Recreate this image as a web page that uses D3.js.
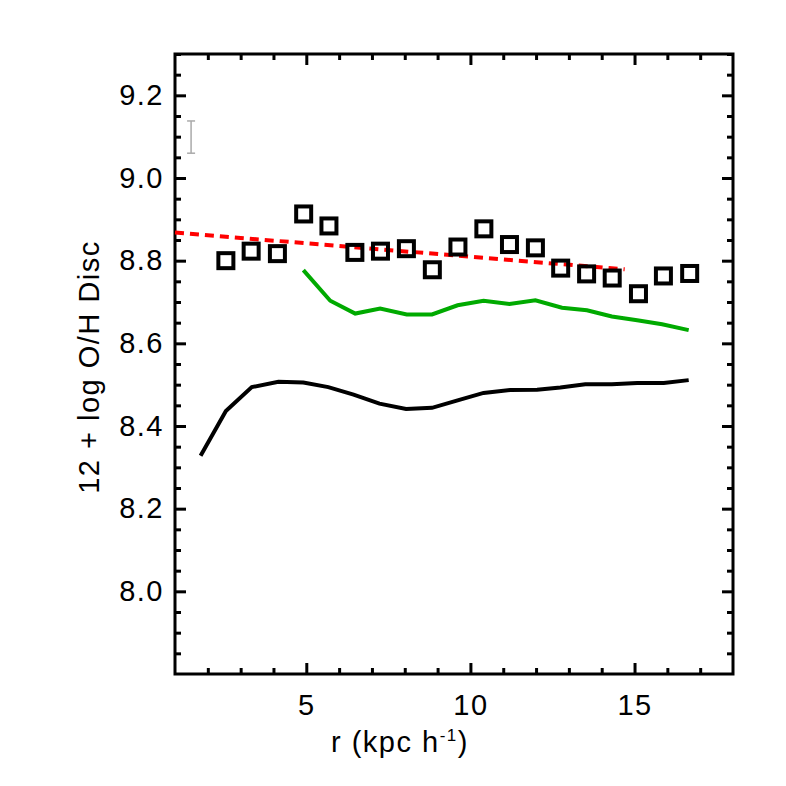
<!DOCTYPE html>
<html>
<head>
<meta charset="utf-8">
<script src="https://cdn.jsdelivr.net/npm/d3@7"></script>
<style>
  body { margin: 0; background: #fff; }
  svg text { font-family: "Liberation Sans", Arial, sans-serif; fill: #000; letter-spacing: 1.5px; }
</style>
</head>
<body>
<div class="figure"></div>
<script>
// observed discs: squares
let sqR = [2.55, 3.32, 4.12, 4.92, 5.69, 6.48, 7.26, 8.05, 8.84, 9.62, 10.41, 11.19, 11.98, 12.75, 13.54, 14.32, 15.12, 15.88, 16.68];
let sqOH = [8.800, 8.823, 8.817, 8.913, 8.884, 8.820, 8.823, 8.829, 8.778, 8.833, 8.877, 8.839, 8.831, 8.782, 8.768, 8.758, 8.720, 8.763, 8.769];

// green model line
let greenR = [4.91, 5.73, 6.49, 7.25, 8.06, 8.83, 9.61, 10.40, 11.19, 11.98, 12.79, 13.55, 14.31, 15.08, 15.84, 16.65];
let greenOH = [8.777, 8.703, 8.672, 8.684, 8.670, 8.670, 8.692, 8.703, 8.695, 8.704, 8.686, 8.680, 8.665, 8.656, 8.646, 8.632];

// black model line
let blackR = [1.78, 2.55, 3.34, 4.15, 4.91, 5.67, 6.44, 7.23, 8.04, 8.83, 9.61, 10.40, 11.21, 12.03, 12.74, 13.50, 14.31, 15.08, 15.89, 16.65];
let blackOH = [8.328, 8.436, 8.494, 8.507, 8.505, 8.494, 8.476, 8.454, 8.441, 8.444, 8.462, 8.480, 8.487, 8.488, 8.493, 8.501, 8.501, 8.504, 8.504, 8.511];

// red dashed fit
let fitR = [1.0, 14.7];
let fitOH = [8.868, 8.779];

// typical error bar
let errR = 1.49;
let errLo = 9.060, errHi = 9.138;

let xTicks = [5, 10, 15];
let yTicks = [8.0, 8.2, 8.4, 8.6, 8.8, 9.0, 9.2];

let margin = {top: 54, right: 53, bottom: 112, left: 175},
  width = 786 - margin.left - margin.right,
  height = 786 - margin.top - margin.bottom;

let svg = d3.select(".figure")
  .append("svg")
  .attr("width", 786)
  .attr("height", 786);

let g = svg.append("g")
  .attr("transform", "translate(" + margin.left + "," + margin.top + ")");

let x = d3.scaleLinear().domain([1, 18]).range([0, width]);
let y = d3.scaleLinear().domain([7.8, 9.3]).range([height, 0]);

let minorX = d3.range(2, 18, 1).filter(function(v) { return v % 5 != 0; });
let minorY = d3.range(7.85, 9.3, 0.05).filter(function(v) { return Math.abs(v * 5 - Math.round(v * 5)) > 0.01; });

function styleAxis(sel) {
  sel.select(".domain").remove();
  sel.selectAll("line").attr("stroke", "#000").attr("stroke-width", 3);
  sel.selectAll("text").attr("font-size", 29);
}

// major ticks, all four sides
g.append("g").attr("transform", "translate(0," + height + ")")
  .call(d3.axisBottom(x).tickValues(xTicks).tickSize(-11).tickPadding(20).tickFormat(d3.format("d")))
  .call(styleAxis);
g.append("g")
  .call(d3.axisTop(x).tickValues(xTicks).tickSize(-11).tickFormat(""))
  .call(styleAxis);
g.append("g")
  .call(d3.axisLeft(y).tickValues(yTicks).tickSize(-11).tickPadding(11).tickFormat(d3.format(".1f")))
  .call(styleAxis);
g.append("g").attr("transform", "translate(" + width + ",0)")
  .call(d3.axisRight(y).tickValues(yTicks).tickSize(-11).tickFormat(""))
  .call(styleAxis);

// minor ticks
g.append("g").attr("transform", "translate(0," + height + ")")
  .call(d3.axisBottom(x).tickValues(minorX).tickSize(-6).tickFormat(""))
  .call(styleAxis);
g.append("g")
  .call(d3.axisTop(x).tickValues(minorX).tickSize(-6).tickFormat(""))
  .call(styleAxis);
g.append("g")
  .call(d3.axisLeft(y).tickValues(minorY).tickSize(-6).tickFormat(""))
  .call(styleAxis);
g.append("g").attr("transform", "translate(" + width + ",0)")
  .call(d3.axisRight(y).tickValues(minorY).tickSize(-6).tickFormat(""))
  .call(styleAxis);

// frame
g.append("rect")
  .attr("x", 0).attr("y", 0)
  .attr("width", width).attr("height", height)
  .attr("fill", "none")
  .attr("stroke", "#000")
  .attr("stroke-width", 3);

let line = d3.line()
  .x(function(d) { return x(d[0]); })
  .y(function(d) { return y(d[1]); });

g.append("path")
  .datum(d3.zip(blackR, blackOH))
  .attr("d", line)
  .attr("fill", "none")
  .attr("stroke", "#000")
  .attr("stroke-width", 4);

g.append("path")
  .datum(d3.zip(greenR, greenOH))
  .attr("d", line)
  .attr("fill", "none")
  .attr("stroke", "#00aa00")
  .attr("stroke-width", 4);

g.append("path")
  .datum(d3.zip(fitR, fitOH))
  .attr("d", line)
  .attr("fill", "none")
  .attr("stroke", "#ff0000")
  .attr("stroke-width", 4)
  .attr("stroke-dasharray", "9,6");

// squares
let sq = 15;
g.selectAll(".sq")
  .data(d3.zip(sqR, sqOH))
  .enter()
  .append("rect")
  .attr("class", "sq")
  .attr("x", function(d) { return x(d[0]) - sq / 2; })
  .attr("y", function(d) { return y(d[1]) - sq / 2; })
  .attr("width", sq)
  .attr("height", sq)
  .attr("fill", "none")
  .attr("stroke", "#000")
  .attr("stroke-width", 4);

// error bar
let eb = g.append("g").attr("stroke", "#aaaaaa").attr("stroke-width", 1.5);
eb.append("line")
  .attr("x1", x(errR)).attr("x2", x(errR))
  .attr("y1", y(errLo)).attr("y2", y(errHi));
[errLo, errHi].forEach(function(v) {
  eb.append("line")
    .attr("x1", x(errR) - 4).attr("x2", x(errR) + 4)
    .attr("y1", y(v)).attr("y2", y(v));
});

// axis titles
let xl = svg.append("text")
  .attr("x", 400)
  .attr("y", 752)
  .attr("text-anchor", "middle")
  .attr("font-size", 29);
xl.append("tspan").text("r (kpc h");
xl.append("tspan").attr("font-size", 17).attr("dy", -11).text("-1");
xl.append("tspan").attr("dy", 11).text(")");

svg.append("text")
  .attr("transform", "translate(99," + (margin.top + height / 2 + 3) + ") rotate(-90)")
  .attr("text-anchor", "middle")
  .attr("font-size", 29)
  .text("12 + log O/H Disc");
</script>
</body>
</html>
